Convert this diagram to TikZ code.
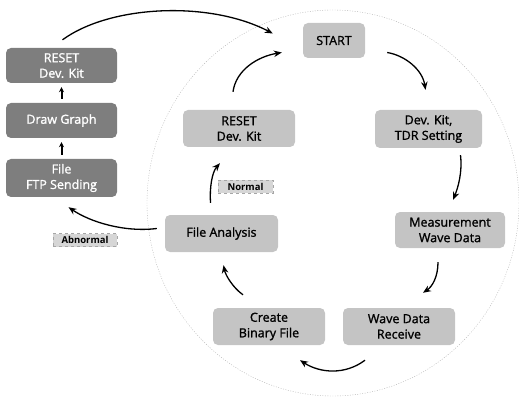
\documentclass[tikz,border=0pt]{standalone}
\usepackage{fontspec}
\setmainfont{Open Sans}
\newfontfamily\boxfont[FakeBold=1.3]{Open Sans}
\usetikzlibrary{arrows.meta,calc}
\definecolor{boxlight}{HTML}{C4C4C4}
\definecolor{boxdark}{HTML}{7E7E7E}
\definecolor{tagfill}{HTML}{D6D6D6}
\begin{document}
\begin{tikzpicture}[x=1pt,y=-1pt,
  stepbox/.style={rounded corners=5pt,fill=boxlight,inner sep=0pt,align=center,
    font=\boxfont\fontsize{12.5}{15.5}\selectfont,text=black},
  darkbox/.style={stepbox,fill=boxdark,text=white},
  tag/.style={draw=gray!70,dashed,fill=tagfill,inner sep=1pt,minimum height=13pt,
    font=\fontsize{9.5}{10}\selectfont\bfseries},
  flow/.style={line width=1.3pt,-{Stealth[length=8pt,width=6.5pt]}},
  ring/.style={gray!60,line width=0.4pt,dash pattern=on 1pt off 1.5pt}]
\useasboundingbox (0,0) rectangle (519,398);

% the cycle's dotted outline
\draw[ring] (333,203) ellipse [x radius=186pt, y radius=193pt];

% steps on the cycle
\node[stepbox,minimum width=62pt,minimum height=35pt] (start) at (334,40.5) {START};
\node[stepbox,minimum width=107pt,minimum height=38pt] (devkit) at (428.5,129) {Dev. Kit,\\TDR Setting};
\node[stepbox,minimum width=110pt,minimum height=36pt] (meas) at (450,230) {Measurement\\Wave Data};
\node[stepbox,minimum width=112pt,minimum height=37pt] (recv) at (399,326.5) {Wave Data\\Receive};
\node[stepbox,minimum width=112pt,minimum height=37pt] (binfile) at (269,326.5) {Create\\Binary File};
\node[stepbox,minimum width=113pt,minimum height=37pt] (analysis) at (221.5,233.5) {File Analysis};
\node[stepbox,minimum width=112pt,minimum height=37pt] (ireset) at (239,128.5) {RESET\\Dev. Kit};

% abnormal branch
\node[darkbox,minimum width=111pt,minimum height=35pt] (lreset) at (61.5,65.5) {RESET\\Dev. Kit};
\node[darkbox,minimum width=111pt,minimum height=35pt] (graph) at (61.5,120.5) {Draw Graph};
\node[darkbox,minimum width=111pt,minimum height=38pt] (ftp) at (61.5,178) {File\\FTP Sending};

% branch tags
\node[tag,minimum width=55pt] (normal) at (245.5,186.5) {Normal};
\node[tag,minimum width=64pt] (abnormal) at (85,240) {Abnormal};

% cycle arrows
\draw[flow] ($(start.east)+(22,12)$) .. controls ($(start.east)+(40,15)$) and ($(devkit.north)+(-6,-40)$) .. ($(devkit.north)+(-3,-20)$);
\draw[flow] ($(devkit.south)+(32,7)$) .. controls ($(devkit.south)+(34,24)$) and ($(meas.north)+(8,-24)$) .. ($(meas.north)+(3,-12)$);
\draw[flow] ($(meas.south)+(-12,14)$) .. controls ($(meas.south)+(-12,29)$) and ($(recv.north)+(33,-21)$) .. ($(recv.north)+(24,-15)$);
\draw[flow] ($(recv.south)+(-34,15)$) .. controls ($(recv.south)+(-54,30)$) and ($(binfile.south)+(51,28)$) .. ($(binfile.south)+(31,15)$);
\draw[flow] ($(binfile.north)+(-26,-13)$) .. controls ($(binfile.north)+(-36,-20)$) and ($(analysis.south)+(4,23)$) .. ($(analysis.south)+(2,13)$);
\draw[flow] ($(analysis.north)+(-11,-12)$) .. controls ($(analysis.north)+(-12,-27)$) and ($(ireset.south)+(-27,25)$) .. ($(ireset.south)+(-19,16)$);
\draw[flow] ($(ireset.north)+(-6,-18)$) .. controls ($(ireset.north)+(-3,-40)$) and ($(start.west)+(-45,16)$) .. ($(start.west)+(-21,12)$);

% abnormal branch arrows
\draw[flow] ($(analysis.west)+(-8,-5)$) .. controls ($(analysis.west)+(-40,-1)$) and ($(ftp.south)+(29,25)$) .. ($(ftp.south)+(7,10)$);
\draw[flow,line width=2pt,shorten <=4pt,shorten >=4pt,-{Stealth[length=5pt,width=5pt]}] (ftp.north) -- (graph.south);
\draw[flow,line width=2pt,shorten <=4pt,shorten >=4pt,-{Stealth[length=5pt,width=5pt]}] (graph.north) -- (lreset.south);
\draw[flow] ($(lreset.north)+(1,-8)$) .. controls ($(lreset.north)+(49,-43)$) and ($(start.west)+(-93,-40)$) .. ($(start.west)+(-30,-7)$);
\end{tikzpicture}
\end{document}
